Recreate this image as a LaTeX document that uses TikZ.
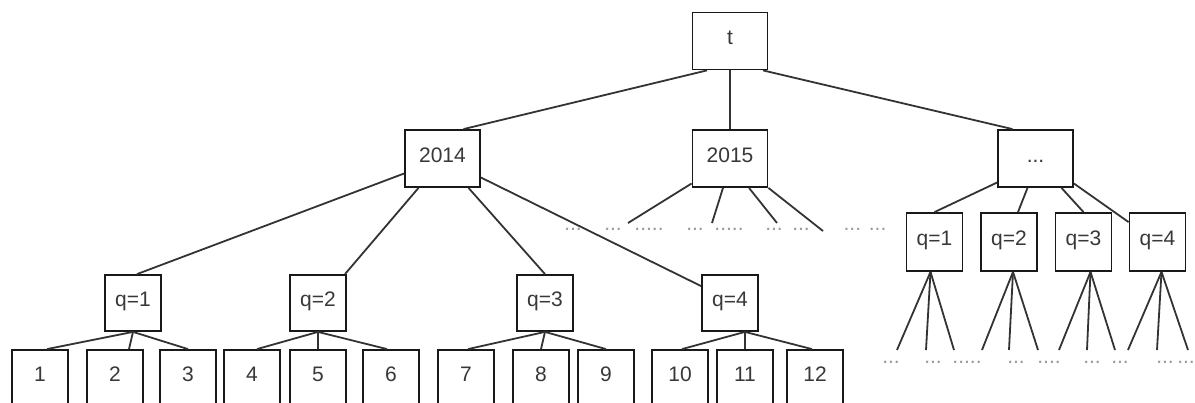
\documentclass[tikz,border=0pt]{standalone}
\usepackage{fontspec}
\setsansfont{Liberation Sans}
\tikzset{%
  % Specifications for style of nodes:
            base/.style = {rectangle, draw=black!90, line width=1.8pt,
                            fill=white, minimum width=75pt, minimum
                            height=57pt, inner sep=0pt, text height=0.72em, text depth=0pt,
                            font=\sffamily\fontsize{21}{25}\selectfont, text=black!78},
                            small/.style = {base, minimum width=56pt, minimum height=56pt},
                            dots/.style = {draw=none, fill=none, minimum width=0pt,
                            minimum height=0pt, text height=0pt, text=black!40},
                            edge/.style = {draw=black!80, line width=1.8pt}
}
\begin{document}
\begin{tikzpicture}[x=1pt, y=-1pt, every node/.style={base}]
                        \useasboundingbox (0,0) rectangle (1195,403);
                        \node (t) at (730,41){t};
                        \node (y14) at (442.5,158.5){2014};
                        \node (y15) at (730,158.5){2015};
                        \node (ymore) at (1035.5,158.5){...};
                        \node (q1)[small] at (133,303){q=1};
                        \node (q2)[small] at (318,303){q=2};
                        \node (q3)[small] at (545,303){q=3};
                        \node (q4)[small] at (730,303){q=4};
                        \node (r1)[small, minimum height=58pt] at (934.5,242){q=1};
                        \node (r2)[small, minimum height=58pt] at (1009,242){q=2};
                        \node (r3)[small, minimum height=58pt] at (1083.5,242){q=3};
                        \node (r4)[small, minimum height=58pt] at (1157.5,242){q=4};
                        \foreach \n/\x in {1/40,2/115,3/188,4/252,5/318,6/391,7/466,8/541,9/606,10/680,11/745,12/815}
                            \node (l\n)[small] at (\x,378){\n};
                        \coordinate (d1) at (628,223);
                        \coordinate (d2) at (712,223);
                        \coordinate (d3) at (777,223);
                        \coordinate (d4) at (823,231);
                        \foreach \n/\x in {1/897,2/926,3/954,4/982,5/1009,6/1038,7/1059,8/1087,9/1115,10/1128,11/1157,12/1188}
                            \coordinate (e\n) at (\x,350);
                        \node (u1)[dots] at (573,231){...};
                        \node (u2)[dots] at (613,231){...};
                        \node (u3)[dots] at (649,231){.....};
                        \node (u4)[dots] at (695,231){...};
                        \node (u5)[dots] at (729,231){.....};
                        \node (u6)[dots] at (774,231){...};
                        \node (u7)[dots] at (801,231){...};
                        \node (u8)[dots] at (865,231){... ...};
                        \node (v1)[dots] at (891,364){...};
                        \node (v2)[dots] at (933,364){...};
                        \node (v3)[dots] at (967,364){.....};
                        \node (v4)[dots] at (1016,364){...};
                        \node (v5)[dots] at (1049,364){....};
                        \node (v6)[dots] at (1092,364){...};
                        \node (v7)[dots] at (1120,364){...};
                        \node (v8)[dots] at (1165,364){...};
                        \node (v9)[dots] at (1186,364){...};
                        \draw[edge] ([xshift=-23pt]t.south)--([xshift=21pt]y14.north);
                        \draw[edge] (t)--(y15);
                        \draw[edge] ([xshift=33pt]t.south)--([xshift=-23pt]ymore.north);
                        \draw[edge] ([yshift=-15pt]y14.west)--([xshift=4pt]q1.north);
                        \draw[edge] ([xshift=-24pt]y14.south)--([xshift=27pt]q2.north);
                        \draw[edge] ([xshift=26pt]y14.south)--(q3.north);
                        \draw[edge] ([yshift=-19pt]y14.east)--([yshift=-12pt]q4.north west);
                        \draw[edge] ([yshift=-25pt]y15.west)--(d1);
                        \draw[edge] ([xshift=-7pt]y15.south)--(d2);
                        \draw[edge] ([xshift=19pt]y15.south)--(d3);
                        \draw[edge] (y15.south east)--(d4);
                        \draw[edge] ([yshift=-24pt]ymore.west)--(r1.north);
                        \draw[edge] ([xshift=-8pt]ymore.south)--([xshift=9pt]r2.north);
                        \draw[edge] ([xshift=26pt]ymore.south)--(r3.north);
                        \draw[edge] ([yshift=-25pt]ymore.east)--([yshift=-10pt]r4.north west);
                        \draw[edge] (q1.south)--([xshift=7pt]l1.north);
                        \draw[edge] (q1.south)--([xshift=14pt]l2.north);
                        \draw[edge] (q1.south)--(l3.north);
                        \draw[edge] (q2.south)--([xshift=5pt]l4.north);
                        \draw[edge] (q2.south)--(l5.north);
                        \draw[edge] (q2.south)--([xshift=-4pt]l6.north);
                        \draw[edge] (q3.south)--([xshift=2pt]l7.north);
                        \draw[edge] (q3.south)--(l8.north);
                        \draw[edge] (q3.south)--(l9.north);
                        \draw[edge] ([xshift=15pt]q4.south)--([xshift=2pt]l10.north);
                        \draw[edge] ([xshift=15pt]q4.south)--(l11.north);
                        \draw[edge] ([xshift=15pt]q4.south)--([xshift=-3pt]l12.north);
                        \foreach \i/\o/\j in {1/-4/1,1/-4/2,1/-4/3,2/4/4,2/4/5,2/4/6,3/7/7,3/7/8,3/7/9,4/4/10,4/4/11,4/4/12}
                            \draw[edge] ([xshift=\o pt]r\i.south)--(e\j);
                    \end{tikzpicture}
\end{document}
